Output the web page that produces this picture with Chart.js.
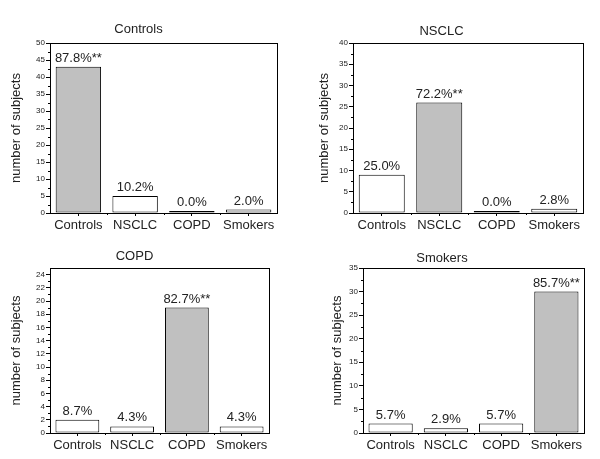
<!DOCTYPE html>
<html>
<head>
<meta charset="utf-8">
<script src="https://cdn.jsdelivr.net/npm/chart.js@4/dist/chart.umd.min.js"></script>
<style>
  body { margin: 0; background: #fff; }
  .panel { position: absolute; }
</style>
</head>
<body>
<div class="panel" style="left:0;top:0"><canvas id="c1" width="300" height="230"></canvas></div>
<div class="panel" style="left:300px;top:0"><canvas id="c2" width="300" height="230"></canvas></div>
<div class="panel" style="left:0;top:230px"><canvas id="c3" width="300" height="229"></canvas></div>
<div class="panel" style="left:300px;top:230px"><canvas id="c4" width="300" height="229"></canvas></div>
<script>
const groups = ["Controls", "NSCLC", "COPD", "Smokers"]

// number of subjects per predicted group, one array per panel
const controlsCounts = [43, 5, 0, 1]
const nsclcCounts = [9, 26, 0, 1]
const copdCounts = [2, 1, 19, 1]
const smokersCounts = [2, 1, 2, 30]

const controlsPct = ["87.8%**", "10.2%", "0.0%", "2.0%"]
const nsclcPct = ["25.0%", "72.2%**", "0.0%", "2.8%"]
const copdPct = ["8.7%", "4.3%", "82.7%**", "4.3%"]
const smokersPct = ["5.7%", "2.9%", "5.7%", "85.7%**"]

const yMax = [50, 40, 25, 35]
const yStep = [5, 5, 2, 5]

const FONT = "'Liberation Sans', Arial, sans-serif"
const INK = "#222"

// frame, minor ticks and percent labels
const extras = {
  id: "extras",
  afterDatasetsDraw(chart, args, opts) {
    const ctx = chart.ctx
    const a = chart.chartArea
    const y = chart.scales.y
    const x = chart.scales.x
    ctx.save()
    ctx.strokeStyle = "#000"
    ctx.lineWidth = 1
    ctx.strokeRect(Math.round(a.left) + 0.5, Math.round(a.top) + 0.5,
      Math.round(a.right - a.left), Math.round(a.bottom - a.top))
    // minor ticks on y
    ctx.beginPath()
    const st = opts.step
    for (let v = st / 2; v < y.max; v += st) {
      const py = Math.round(y.getPixelForValue(v)) + 0.5
      ctx.moveTo(a.left - 2, py)
      ctx.lineTo(a.left, py)
    }
    // minor ticks on x at category edges
    for (let i = 0; i <= groups.length; i++) {
      const px = Math.round(x.getPixelForValue(i - 0.5)) + 0.5
      if (px < a.left + 1 || px > a.right - 1) continue
      ctx.moveTo(px, a.bottom)
      ctx.lineTo(px, a.bottom + 2)
    }
    ctx.stroke()
    // percent labels
    ctx.fillStyle = INK
    ctx.font = "13px " + FONT
    ctx.textAlign = "center"
    ctx.textBaseline = "bottom"
    const meta = chart.getDatasetMeta(0)
    meta.data.forEach((bar, i) => {
      ctx.fillText(opts.labels[i], bar.x, bar.y - 2)
    })
    ctx.restore()
  }
}

function makeChart(id, title, counts, pct, max, step, highlight, lay) {
  const colors = counts.map((v, i) => i === highlight ? "#c0c0c0" : "#ffffff")
  return new Chart(document.getElementById(id), {
    type: "bar",
    data: {
      labels: groups,
      datasets: [{
        data: counts,
        backgroundColor: colors,
        borderColor: "#000",
        borderWidth: 1,
        borderSkipped: false,
        barPercentage: 0.8,
        categoryPercentage: 1,
        minBarLength: 2
      }]
    },
    options: {
      responsive: false,
      animation: false,
      events: [],
      layout: { padding: { left: 0, right: lay.right, top: 0, bottom: 0 } },
      plugins: {
        legend: { display: false },
        tooltip: { enabled: false },
        title: {
          display: true,
          text: title,
          color: INK,
          font: { family: FONT, size: 13, weight: "normal", lineHeight: 1.1 },
          padding: { top: lay.tTop, bottom: lay.tBot }
        },
        extras: { labels: pct, step: step }
      },
      scales: {
        x: {
          grid: { display: true, drawOnChartArea: false, offset: false, tickLength: 3, color: "#000" },
          border: { display: true, color: "#000" },
          ticks: { color: INK, font: { family: FONT, size: 13 }, padding: 2, maxRotation: 0, autoSkip: false },
          afterFit(s) { s.height = lay.xh }
        },
        y: {
          min: 0,
          max: max,
          grid: { display: true, drawOnChartArea: false, tickLength: 4, color: "#000" },
          border: { display: true, color: "#000" },
          ticks: { stepSize: step, includeBounds: false, color: INK, font: { family: FONT, size: 8 }, padding: 1 },
          title: {
            display: true,
            text: "number of subjects",
            color: INK,
            font: { family: FONT, size: 13 },
            padding: { top: lay.yt, bottom: 0 }
          },
          afterFit(s) { s.width = lay.yw }
        }
      }
    },
    plugins: [extras]
  })
}

makeChart("c1", "Controls", controlsCounts, controlsPct, yMax[0], yStep[0], 0,
  { right: 23, tTop: 22, tBot: 6.7, xh: 17, yw: 50, yt: 9 })
makeChart("c2", "NSCLC", nsclcCounts, nsclcPct, yMax[1], yStep[1], 1,
  { right: 17, tTop: 24, tBot: 4.7, xh: 17, yw: 53, yt: 17 })
makeChart("c3", "COPD", copdCounts, copdPct, yMax[2], yStep[2], 2,
  { right: 31, tTop: 19, tBot: 4.7, xh: 26, yw: 50, yt: 9 })
makeChart("c4", "Smokers", smokersCounts, smokersPct, yMax[3], yStep[3], 3,
  { right: 16, tTop: 21, tBot: 2.7, xh: 26, yw: 63, yt: 30 })
</script>
</body>
</html>
